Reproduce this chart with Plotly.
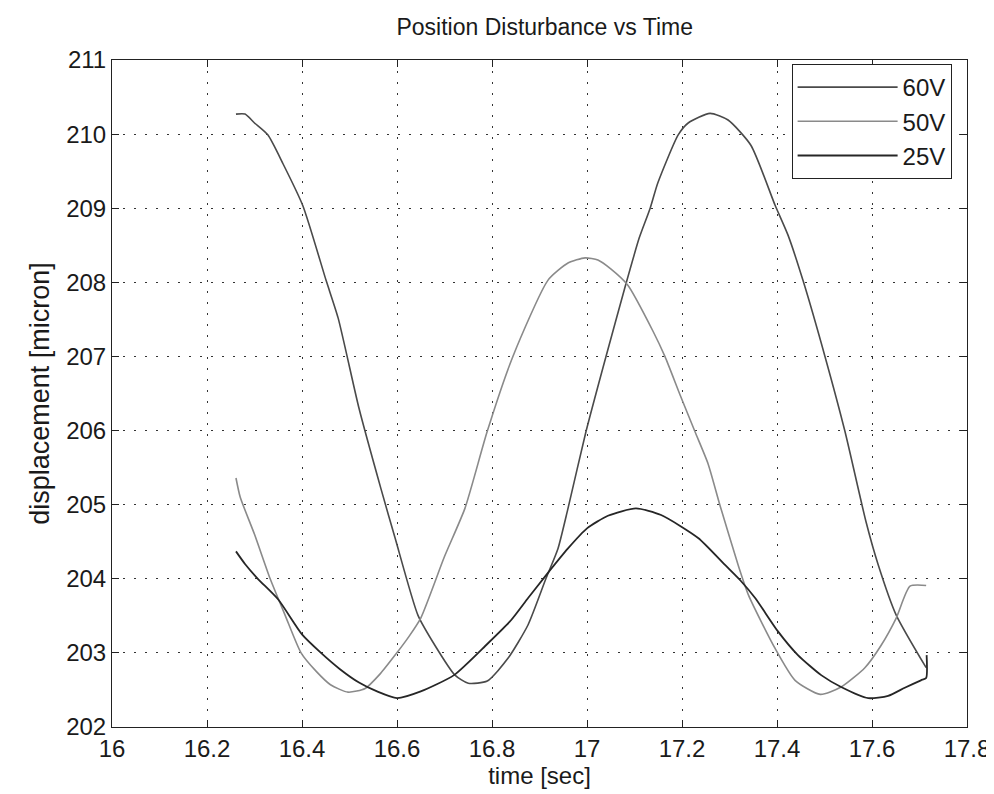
import plotly.graph_objects as go

# 60V series
t_60 = [16.261, 16.28, 16.30, 16.328, 16.36, 16.402, 16.451, 16.476, 16.52, 16.566,
        16.596, 16.644, 16.68, 16.722, 16.75, 16.79, 16.834, 16.876, 16.914, 16.939,
        16.96, 16.998, 17.04, 17.082, 17.11, 17.133, 17.149, 17.192, 17.213, 17.259,
        17.297, 17.345, 17.396, 17.423, 17.455, 17.501, 17.543, 17.587, 17.613, 17.651,
        17.714]
v_60 = [210.27, 210.27, 210.15, 209.99, 209.6, 209.03, 208.02, 207.52, 206.3, 205.22,
        204.55, 203.51, 203.1, 202.7, 202.59, 202.62, 202.93, 203.38, 204.01, 204.41,
        204.95, 205.99, 207.0, 207.98, 208.6, 209.0, 209.34, 209.99, 210.15, 210.28,
        210.19, 209.85, 209.04, 208.64, 208.02, 207.0, 205.99, 204.78, 204.19, 203.51,
        202.8]

# 50V series
t_50 = [16.261, 16.27, 16.30, 16.333, 16.365, 16.398, 16.43, 16.46, 16.497, 16.533,
        16.565, 16.596, 16.625, 16.65, 16.70, 16.743, 16.79, 16.844, 16.918, 16.96,
        16.996, 17.023, 17.05, 17.086, 17.139, 17.164, 17.196, 17.227, 17.255, 17.28,
        17.318, 17.34, 17.396, 17.438, 17.491, 17.535, 17.585, 17.619, 17.651, 17.68,
        17.714]
v_50 = [205.36, 205.1, 204.6, 204.0, 203.5, 203.0, 202.75, 202.57, 202.47, 202.52,
        202.72, 202.97, 203.22, 203.47, 204.3, 204.95, 205.99, 207.0, 208.03, 208.26,
        208.33, 208.3, 208.18, 207.96, 207.34, 207.0, 206.48, 205.99, 205.55, 204.99,
        204.19, 203.78, 203.06, 202.63, 202.44, 202.54, 202.8, 203.1, 203.47, 203.9,
        203.91]

# 25V series
t_25 = [16.261, 16.28, 16.307, 16.35, 16.40, 16.44, 16.48, 16.52, 16.558, 16.6,
        16.65, 16.72, 16.79, 16.84, 16.876, 16.914, 16.96, 17.0, 17.044, 17.103,
        17.156, 17.234, 17.29, 17.324, 17.354, 17.402, 17.444, 17.493, 17.535, 17.592,
        17.634, 17.669, 17.703, 17.714, 17.715]
v_25 = [204.37, 204.2, 204.0, 203.72, 203.25, 203.0, 202.78, 202.6, 202.48, 202.39,
        202.48, 202.7, 203.12, 203.44, 203.74, 204.05, 204.41, 204.68, 204.85, 204.95,
        204.86, 204.55, 204.19, 203.97, 203.74, 203.29, 202.97, 202.7, 202.54, 202.39,
        202.42, 202.53, 202.63, 202.66, 202.97]

x_ticks = [16, 16.2, 16.4, 16.6, 16.8, 17, 17.2, 17.4, 17.6, 17.8]
x_tick_labels = ["16", "16.2", "16.4", "16.6", "16.8", "17", "17.2", "17.4", "17.6", "17.8"]
y_ticks = [202, 203, 204, 205, 206, 207, 208, 209, 210, 211]

FONT = "Liberation Sans, Arial, sans-serif"
INK = "#1a1a1a"

fig = go.Figure()
fig.add_trace(go.Scatter(x=t_60, y=v_60, mode="lines", name="60V",
                         line=dict(color="#4a4a4a", width=1.6, shape="spline", smoothing=0.6)))
fig.add_trace(go.Scatter(x=t_50, y=v_50, mode="lines", name="50V",
                         line=dict(color="#8a8a8a", width=1.6, shape="spline", smoothing=0.6)))
fig.add_trace(go.Scatter(x=t_25, y=v_25, mode="lines", name="25V",
                         line=dict(color="#262626", width=1.8, shape="spline", smoothing=0.6)))

axis_common = dict(
    showgrid=True, gridcolor="#333333", griddash="2px,9px", gridwidth=1.2,
    zeroline=False, showline=True, linecolor="#222222", linewidth=1,
    mirror="ticks", ticks="inside", ticklen=7, tickcolor="#222222",
    tickfont=dict(family=FONT, size=24, color=INK),
)

fig.update_layout(
    width=994, height=794,
    paper_bgcolor="white", plot_bgcolor="white",
    margin=dict(l=104, r=35, t=52, b=75),
    title=dict(text="Position Disturbance vs Time", x=0.54, xanchor="center",
               y=0.976, yanchor="middle",
               font=dict(family=FONT, size=23, color=INK)),
    xaxis=dict(range=[16, 17.8], tickvals=x_ticks, ticktext=x_tick_labels,
               title=dict(text="time [sec]", standoff=6,
                          font=dict(family=FONT, size=24, color=INK)),
               **axis_common),
    yaxis=dict(range=[202, 211], tickvals=y_ticks,
               title=dict(text="displacement [micron]", standoff=8,
                          font=dict(family=FONT, size=27, color=INK)),
               **axis_common),
    legend=dict(x=0.982, y=0.994, xanchor="right", yanchor="top",
                bgcolor="white", bordercolor="#222222", borderwidth=1,
                font=dict(family=FONT, size=24, color=INK),
                itemwidth=100),
    showlegend=True,
)

fig.write_html("out.html")
